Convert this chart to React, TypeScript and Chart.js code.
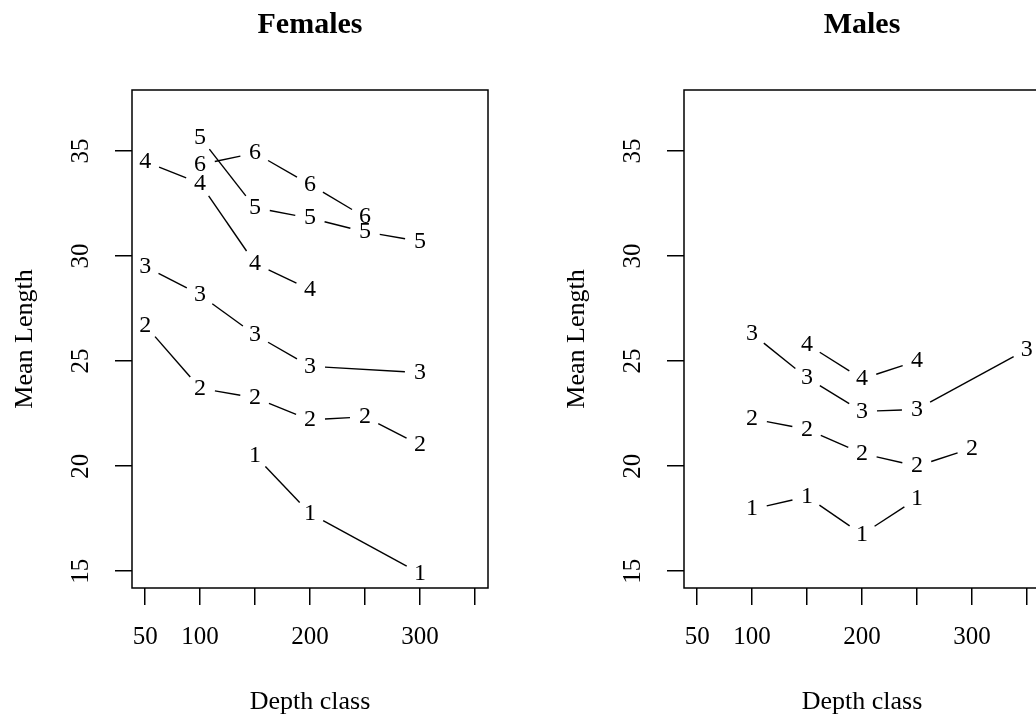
import React, { useEffect, useRef } from 'react';
import { Chart, registerables } from 'chart.js';

Chart.register(...registerables);

// ---- data ----
const depthClasses = [50, 100, 150, 200, 250, 300, 350];
const xTickLabels = ['50', '100', '', '200', '', '300', ''];
const yTicks = [15, 20, 25, 30, 35];
const seriesLabels = ['1', '2', '3', '4', '5', '6'];

// Females mean length by depth class (null = no observation)
const females1 = [null, null, 20.5, 17.75, null, 14.9, null];
const females2 = [26.7, 23.7, 23.25, 22.2, 22.35, 21.0, null];
const females3 = [29.5, 28.15, 26.25, 24.75, null, 24.45, null];
const females4 = [34.5, 33.45, 29.65, 28.4, null, null, null];
const females5 = [null, 35.65, 32.3, 31.8, 31.15, 30.7, null];
const females6 = [null, 34.35, 34.9, 33.4, 31.85, null, null];

// Males mean length by depth class
const males1 = [null, 17.95, 18.55, 16.75, 18.45, null, null];
const males2 = [null, 22.25, 21.75, 20.6, 20.0, 20.85, null];
const males3 = [null, 26.3, 24.2, 22.6, 22.7, null, 25.55];
const males4 = [null, null, 25.8, 24.15, 25.0, null, null];

const femaleSeries = [females1, females2, females3, females4, females5, females6];
const maleSeries = [males1, males2, males3, males4];

const FONT = '"Liberation Serif", "Times New Roman", serif';
const GAP = 15;

const rPlotPlugin = {
  id: 'rPlot',
  afterDatasetsDraw(chart: any) {
    const ctx = chart.ctx;
    ctx.save();
    ctx.strokeStyle = '#000';
    ctx.fillStyle = '#000';
    ctx.lineWidth = 1.4;
    ctx.font = `24px ${FONT}`;
    ctx.textAlign = 'center';
    ctx.textBaseline = 'middle';
    chart.data.datasets.forEach((ds: any, di: number) => {
      const meta = chart.getDatasetMeta(di);
      const pts = meta.data.map((p: any) => ({ x: p.x, y: p.y }));
      for (let i = 0; i < pts.length - 1; i++) {
        const a = pts[i];
        const b = pts[i + 1];
        const dx = b.x - a.x;
        const dy = b.y - a.y;
        const d = Math.hypot(dx, dy);
        if (d > 2 * GAP) {
          const ux = dx / d;
          const uy = dy / d;
          ctx.beginPath();
          ctx.moveTo(a.x + ux * GAP, a.y + uy * GAP);
          ctx.lineTo(b.x - ux * GAP, b.y - uy * GAP);
          ctx.stroke();
        }
      }
      pts.forEach((p: any) => ctx.fillText(ds.label, p.x, p.y));
    });
    ctx.restore();
  },
  afterDraw(chart: any) {
    const ctx = chart.ctx;
    const ca = chart.chartArea;
    ctx.save();
    // box
    ctx.strokeStyle = '#000';
    ctx.lineWidth = 1.5;
    ctx.strokeRect(ca.left, ca.top, ca.right - ca.left, ca.bottom - ca.top);
    // y tick labels, rotated
    ctx.fillStyle = '#000';
    ctx.font = `25px ${FONT}`;
    ctx.textAlign = 'center';
    ctx.textBaseline = 'middle';
    const ys = chart.scales.y;
    yTicks.forEach((v) => {
      const py = ys.getPixelForValue(v);
      ctx.save();
      ctx.translate(ca.left - 51, py);
      ctx.rotate(-Math.PI / 2);
      ctx.fillText(String(v), 0, 0);
      ctx.restore();
    });
    // panel title
    ctx.font = `bold 30px ${FONT}`;
    ctx.textBaseline = 'alphabetic';
    ctx.fillText(chart.options.plugins.panelTitle.text, (ca.left + ca.right) / 2, 33);
    ctx.restore();
  },
};

function makeConfig(series: (number | null)[][], title: string): any {
  const datasets = series.map((arr, i) => ({
    label: seriesLabels[i],
    data: depthClasses
      .map((d, j) => (arr[j] == null ? null : { x: d, y: arr[j] }))
      .filter((p) => p !== null),
    showLine: false,
    pointRadius: 0,
    pointHoverRadius: 0,
    borderColor: '#000',
    backgroundColor: '#000',
  }));
  return {
    type: 'line',
    data: { datasets },
    options: {
      responsive: false,
      animation: false,
      events: [],
      layout: { padding: { top: 90, right: 30, bottom: 0, left: 0 } },
      plugins: {
        legend: { display: false },
        tooltip: { enabled: false },
        title: { display: false },
        panelTitle: { text: title },
      },
      scales: {
        x: {
          type: 'linear',
          min: 38,
          max: 362,
          afterBuildTicks: (s: any) => {
            s.ticks = depthClasses.map((v) => ({ value: v }));
          },
          afterFit: (s: any) => {
            s.height = 127;
          },
          ticks: {
            autoSkip: false,
            maxRotation: 0,
            minRotation: 0,
            padding: 17,
            color: '#000',
            font: { family: FONT, size: 25, lineHeight: 1.2 },
            callback: (v: number) => xTickLabels[depthClasses.indexOf(v)] ?? '',
          },
          grid: {
            drawOnChartArea: false,
            drawTicks: true,
            tickLength: 17,
            color: '#000',
            lineWidth: 1.5,
          },
          border: { display: false },
          title: {
            display: true,
            text: 'Depth class',
            color: '#000',
            font: { family: FONT, size: 26, lineHeight: 1 },
            padding: { top: 0, bottom: 0 },
          },
        },
        y: {
          type: 'linear',
          min: 14.2,
          max: 37.9,
          afterBuildTicks: (s: any) => {
            s.ticks = yTicks.map((v) => ({ value: v }));
          },
          afterFit: (s: any) => {
            s.width = 132;
          },
          ticks: { display: false },
          grid: {
            drawOnChartArea: false,
            drawTicks: true,
            tickLength: 17,
            color: '#000',
            lineWidth: 1.5,
          },
          border: { display: false },
          title: {
            display: true,
            text: 'Mean Length',
            color: '#000',
            font: { family: FONT, size: 26, lineHeight: 1 },
            padding: { top: 12, bottom: 0 },
          },
        },
      },
    },
    plugins: [rPlotPlugin],
  };
}

function Panel({ series, title, left }: { series: (number | null)[][]; title: string; left: number }) {
  const ref = useRef<HTMLCanvasElement | null>(null);
  useEffect(() => {
    if (!ref.current) return;
    const chart = new Chart(ref.current, makeConfig(series, title));
    return () => chart.destroy();
  }, [series, title]);
  return (
    <canvas
      ref={ref}
      width={518}
      height={715}
      style={{ position: 'absolute', left, top: 0, width: 518, height: 715, display: 'block' }}
    />
  );
}

export default function App() {
  return (
    <div
      style={{
        position: 'fixed',
        left: 0,
        top: 0,
        width: 1036,
        height: 715,
        overflow: 'hidden',
        background: '#fff',
      }}
    >
      <Panel series={femaleSeries} title="Females" left={0} />
      <Panel series={maleSeries} title="Males" left={552} />
    </div>
  );
}
